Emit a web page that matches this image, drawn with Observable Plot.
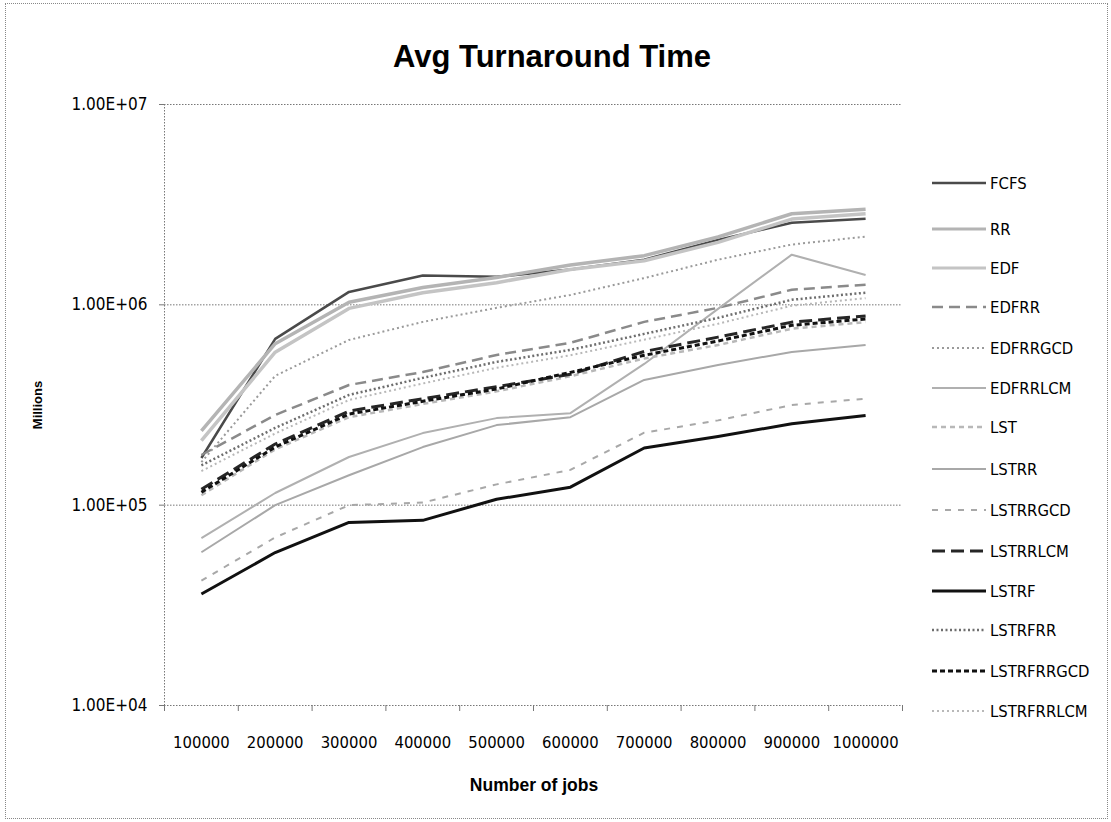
<!DOCTYPE html>
<html>
<head>
<meta charset="utf-8">
<script src="https://cdn.jsdelivr.net/npm/d3@7"></script>
<script src="https://cdn.jsdelivr.net/npm/@observablehq/plot@0.6"></script>
<style>
  body { margin: 0; background: #fff; }
  #chart { position: relative; width: 1111px; height: 822px; overflow: hidden; background: #fff;
           font-family: "DejaVu Sans Condensed", "Liberation Sans Narrow", sans-serif; color: #000; }
  #frame { position: absolute; left: 5px; top: 3px; width: 1103px; height: 816px; border: 1px dotted #888; box-sizing: border-box; }
  #title { position: absolute; left: 0; top: 39px; width: 1104px; text-align: center;
           font: bold 31px "Liberation Sans", Arial, sans-serif; }
  #ylabel { position: absolute; left: 37px; top: 405px; transform: translate(-50%, -50%) rotate(-90deg);
            font: bold 13px "Liberation Sans", Arial, sans-serif; white-space: nowrap; }
  #xlabel { position: absolute; left: 534px; top: 785px; transform: translate(-50%, -50%);
            font: bold 17.5px "Liberation Sans", Arial, sans-serif; white-space: nowrap; }
  #plot { position: absolute; left: 0; top: 0; }
  .leg { position: absolute; left: 930px; height: 20px; display: flex; align-items: center; font-size: 16.5px; white-space: nowrap; }
  .leg svg { margin-right: 4px; }
</style>
</head>
<body>
<div id="chart">
  <div id="frame"></div>
  <div id="plot"></div>
  <div id="title"></div>
  <div id="ylabel">Millions</div>
  <div id="xlabel">Number of jobs</div>
</div>
<script>
// ---- data ----
const jobs = [100000, 200000, 300000, 400000, 500000, 600000, 700000, 800000, 900000, 1000000];
const FCFS       = [1.72e5, 6.76e5, 1.16e6, 1.40e6, 1.38e6, 1.50e6, 1.68e6, 2.11e6, 2.57e6, 2.69e6];
const RR         = [2.35e5, 6.40e5, 1.03e6, 1.22e6, 1.37e6, 1.58e6, 1.76e6, 2.18e6, 2.85e6, 3.00e6];
const EDF        = [2.10e5, 5.80e5, 9.60e5, 1.15e6, 1.29e6, 1.50e6, 1.66e6, 2.05e6, 2.68e6, 2.85e6];
const EDFRR      = [1.78e5, 2.82e5, 3.98e5, 4.62e5, 5.62e5, 6.46e5, 8.22e5, 9.66e5, 1.19e6, 1.26e6];
const EDFRRGCD   = [1.64e5, 4.42e5, 6.68e5, 8.22e5, 9.66e5, 1.12e6, 1.36e6, 1.68e6, 2.00e6, 2.19e6];
const EDFRRLCM   = [6.84e4, 1.15e5, 1.74e5, 2.29e5, 2.72e5, 2.88e5, 5.07e5, 9.55e5, 1.78e6, 1.41e6];
const LST        = [1.12e5, 1.90e5, 2.75e5, 3.20e5, 3.70e5, 4.40e5, 5.40e5, 6.30e5, 7.60e5, 8.20e5];
const LSTRR      = [5.82e4, 1.00e5, 1.41e5, 1.95e5, 2.51e5, 2.75e5, 4.22e5, 5.01e5, 5.82e5, 6.31e5];
const LSTRRGCD   = [4.20e4, 6.90e4, 1.00e5, 1.03e5, 1.27e5, 1.50e5, 2.30e5, 2.65e5, 3.16e5, 3.40e5];
const LSTRRLCM   = [1.20e5, 2.02e5, 2.95e5, 3.40e5, 3.90e5, 4.50e5, 5.85e5, 6.90e5, 8.20e5, 8.80e5];
const LSTRF      = [3.60e4, 5.80e4, 8.20e4, 8.40e4, 1.07e5, 1.23e5, 1.93e5, 2.20e5, 2.55e5, 2.80e5];
const LSTRFRR    = [1.58e5, 2.43e5, 3.55e5, 4.32e5, 5.19e5, 5.96e5, 7.16e5, 8.61e5, 1.06e6, 1.15e6];
const LSTRFRRGCD = [1.16e5, 1.95e5, 2.85e5, 3.30e5, 3.80e5, 4.60e5, 5.60e5, 6.60e5, 7.90e5, 8.50e5];
const LSTRFRRLCM = [1.48e5, 2.28e5, 3.35e5, 4.05e5, 4.85e5, 5.60e5, 6.70e5, 8.05e5, 9.90e5, 1.08e6];

const seriesNames = ["FCFS","RR","EDF","EDFRR","EDFRRGCD","EDFRRLCM","LST","LSTRR","LSTRRGCD","LSTRRLCM","LSTRF","LSTRFRR","LSTRFRRGCD","LSTRFRRLCM"];
const seriesValues = [FCFS, RR, EDF, EDFRR, EDFRRGCD, EDFRRLCM, LST, LSTRR, LSTRRGCD, LSTRRLCM, LSTRF, LSTRFRR, LSTRFRRGCD, LSTRFRRLCM];
const yTicks = [1e4, 1e5, 1e6, 1e7];
const yTickLabels = ["1.00E+04", "1.00E+05", "1.00E+06", "1.00E+07"];
const xTickLabels = ["100000","200000","300000","400000","500000","600000","700000","800000","900000","1000000"];
const titleText = "Avg Turnaround Time";

// ---- styles ----
const styles = {
  FCFS:       {stroke: "#4a4a4a", width: 2.5, dash: null},
  RR:         {stroke: "#b4b4b4", width: 3.5, dash: null},
  EDF:        {stroke: "#c4c4c4", width: 3.5, dash: null},
  EDFRR:      {stroke: "#8a8a8a", width: 2.5, dash: "11,6"},
  EDFRRGCD:   {stroke: "#9a9a9a", width: 2,   dash: "2,3"},
  EDFRRLCM:   {stroke: "#b0b0b0", width: 2,   dash: null},
  LST:        {stroke: "#b8b8b8", width: 2.5, dash: "5,4"},
  LSTRR:      {stroke: "#a8a8a8", width: 2,   dash: null},
  LSTRRGCD:   {stroke: "#a8a8a8", width: 2,   dash: "6,7"},
  LSTRRLCM:   {stroke: "#262626", width: 3,   dash: "13,6"},
  LSTRF:      {stroke: "#111111", width: 3,   dash: null},
  LSTRFRR:    {stroke: "#6e6e6e", width: 2.5, dash: "2,2.5"},
  LSTRFRRGCD: {stroke: "#111111", width: 3,   dash: "5,3"},
  LSTRFRRLCM: {stroke: "#b8b8b8", width: 2,   dash: "2,3"}
};

const rows = seriesNames.flatMap((name, i) => seriesValues[i].map((v, j) => ({name, jobs: jobs[j], value: v})));
const step = jobs[1] - jobs[0];
const boundaries = [...jobs.map(j => j - step / 2), jobs[jobs.length - 1] + step / 2];
const fontNarrow = '"DejaVu Sans Condensed", "Liberation Sans Narrow", sans-serif';

const chart = Plot.plot({
  width: 1111,
  height: 822,
  marginTop: 104,
  marginBottom: 117,
  marginLeft: 164,
  marginRight: 209,
  style: {fontFamily: fontNarrow, fontSize: "17px", color: "#000", background: "transparent"},
  x: {type: "linear", domain: [boundaries[0], boundaries[boundaries.length - 1]], label: null},
  y: {type: "log", domain: [yTicks[0], yTicks[yTicks.length - 1]], label: null},
  marks: [
    Plot.ruleY(yTicks, {stroke: "#777", strokeDasharray: "1.5,1.5", strokeWidth: 1}),
    Plot.ruleX([boundaries[0]], {stroke: "#777", strokeDasharray: "1.5,1.5", strokeWidth: 1}),
    Plot.axisY({ticks: yTicks, tickFormat: d => yTickLabels[yTicks.indexOf(d)], tickSize: 5, tickPadding: 12,
                stroke: "#777", fontSize: 17, label: null}),
    Plot.axisX({ticks: boundaries, tickSize: 6, tickFormat: () => "", stroke: "#777", label: null}),
    Plot.axisX({ticks: jobs, tickSize: 0, tickPadding: 31, tickFormat: d => xTickLabels[jobs.indexOf(d)], fontSize: 16.5, label: null}),
    ...seriesNames.map(name => Plot.line(rows.filter(r => r.name === name), {
      x: "jobs", y: "value",
      stroke: styles[name].stroke,
      strokeWidth: styles[name].width,
      strokeDasharray: styles[name].dash,
      strokeLinejoin: "round",
      strokeLinecap: "butt"
    }))
  ]
});
document.getElementById("plot").appendChild(chart);
document.getElementById("title").textContent = titleText;

// ---- legend ----
const legendY = [183, 229, 268, 307, 348, 388, 427, 469, 510, 551, 591, 630, 671, 711];
const chartDiv = document.getElementById("chart");
seriesNames.forEach((name, i) => {
  const s = styles[name];
  const div = document.createElement("div");
  div.className = "leg";
  div.style.top = (legendY[i] - 10) + "px";
  const w = Math.min(s.width, 3);
  div.innerHTML = `<svg width="56" height="20"><line x1="2" y1="10" x2="56" y2="10" stroke="${s.stroke}" stroke-width="${w}" ${s.dash ? `stroke-dasharray="${s.dash}"` : ""}/></svg><span>${name}</span>`;
  chartDiv.appendChild(div);
});
</script>
</body>
</html>
